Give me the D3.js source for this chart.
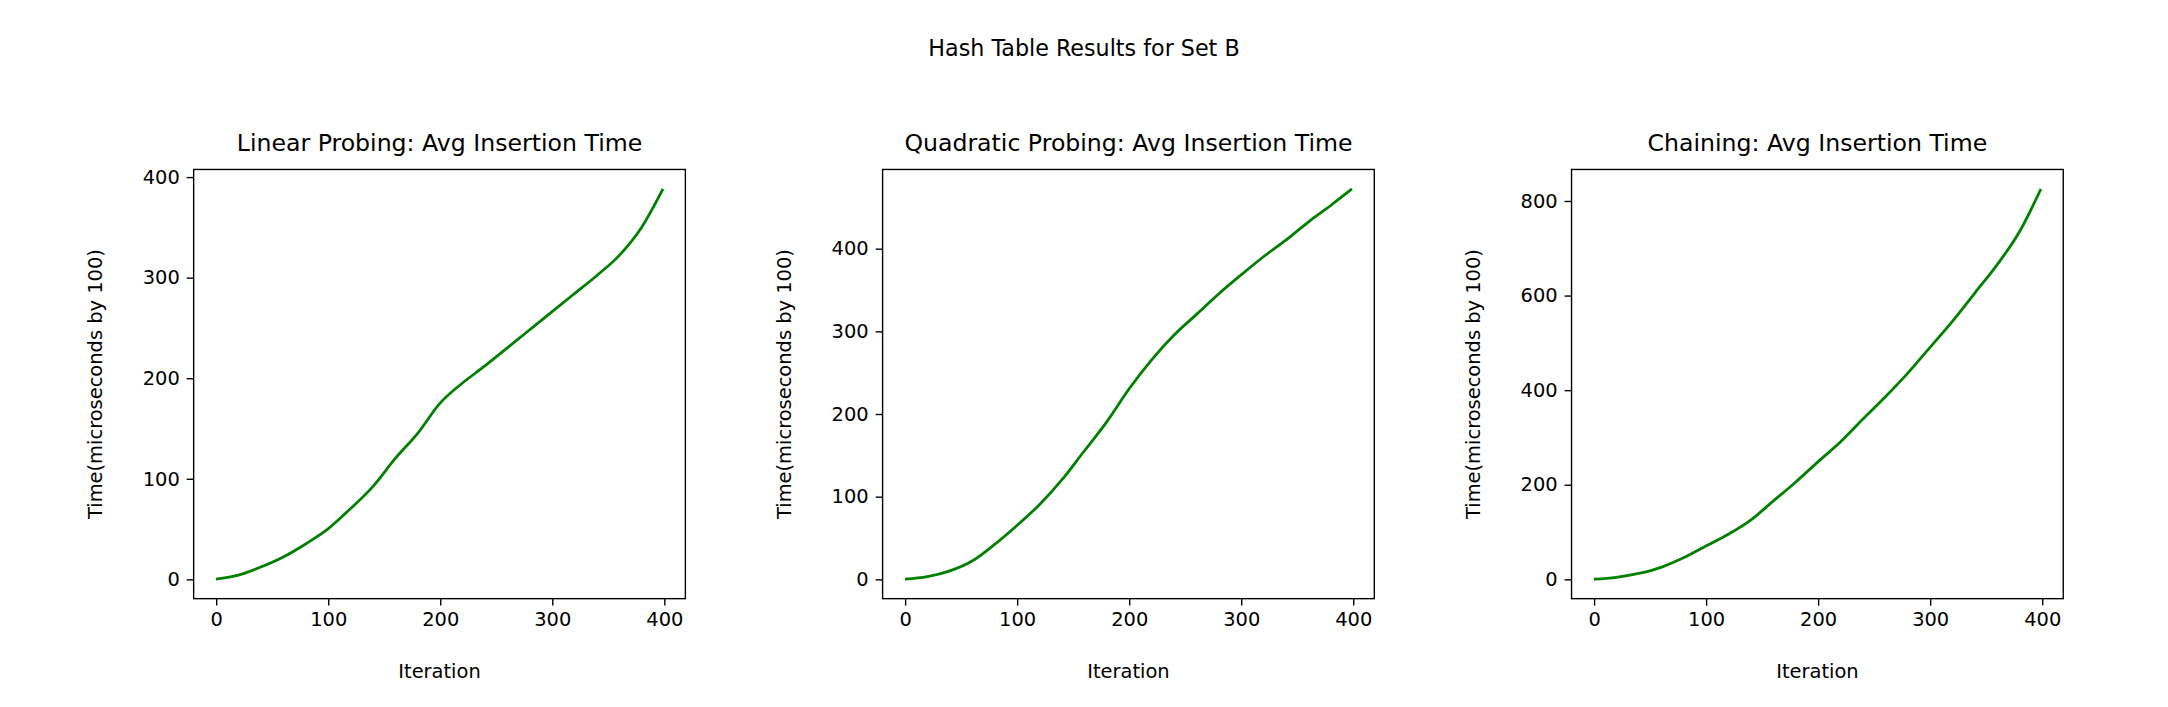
<!DOCTYPE html>
<html><head><meta charset="utf-8">
<script src="https://cdn.jsdelivr.net/npm/d3@7"></script>
<style>body{margin:0;background:#fff}text{font-family:"DejaVu Sans",sans-serif;fill:#000}</style>
</head><body>
<svg id="chart" width="2168" height="707" viewBox="0 0 1560 509"></svg>
<script>
const iterations = [0,20,40,60,80,100,120,140,160,180,200,220,240,260,280,300,320,340,360,380,399]
const linearTimes = [0,4,12,22,35,50,70,92,120,145,175,195,212,230,248,266,284,302,322,350,388]
const quadraticTimes = [0,3,10,22,42,65,90,120,155,190,230,265,295,320,345,368,390,410,432,452,472]
const chainingTimes = [0,4,12,25,45,70,95,125,165,205,248,290,338,385,435,490,545,605,665,735,825]
const panelTitles = ['Linear Probing: Avg Insertion Time','Quadratic Probing: Avg Insertion Time','Chaining: Avg Insertion Time']
const xTicks = [0,100,200,300,400]
const yTicks = [[0,100,200,300,400],[0,100,200,300,400],[0,200,400,600,800]]

const svg = d3.select('#chart')
svg.append('text').attr('x', 780).attr('y', 40).attr('text-anchor','middle')
	.style('font-size','16px').text('Hash Table Results for Set B')

const panels = [
	{left: 139, values: linearTimes},
	{left: 635, values: quadraticTimes},
	{left: 1131, values: chainingTimes}
]
const panelTop = 122, w = 354, h = 309

panels.forEach((p, i) => {
	const g = svg.append('g').attr('transform', `translate(${p.left},${panelTop})`)
	const ymax = d3.max(p.values)
	const x = d3.scaleLinear().domain([-19.95, 418.95]).range([0, w])
	const y = d3.scaleLinear().domain([-ymax*0.05, ymax*1.05]).range([h, 0])
	const xa = g.append('g').attr('transform', `translate(0,${h})`)
		.call(d3.axisBottom(x).tickValues(xTicks).tickSize(5).tickPadding(5).tickSizeOuter(0))
	const ya = g.append('g').call(d3.axisLeft(y).tickValues(yTicks[i]).tickSize(5).tickPadding(5).tickSizeOuter(0))
	;[xa, ya].forEach(a => {
		a.select('.domain').remove()
		a.selectAll('text').style('font-size','14px').style('font-family','DejaVu Sans')
		a.selectAll('line').attr('stroke','#000')
	})
	g.append('rect').attr('width', w).attr('height', h).attr('fill','none').attr('stroke','#000').attr('stroke-width',1)
	g.append('path').datum(iterations.map((it, k) => [it, p.values[k]]))
		.attr('fill','none').attr('stroke','green').attr('stroke-width',2)
		.attr('d', d3.line().x(d => x(d[0])).y(d => y(d[1])).curve(d3.curveMonotoneX))
	g.append('text').attr('x', w/2).attr('y', -13).attr('text-anchor','middle')
		.style('font-size','17px').text(panelTitles[i])
	g.append('text').attr('x', w/2).attr('y', h + 57).attr('text-anchor','middle')
		.style('font-size','14px').text('Iteration')
	g.append('text').attr('transform', `translate(-66,${h/2}) rotate(-90)`).attr('text-anchor','middle')
		.style('font-size','14px').text('Time(microseconds by 100)')
})
</script>
</body></html>
